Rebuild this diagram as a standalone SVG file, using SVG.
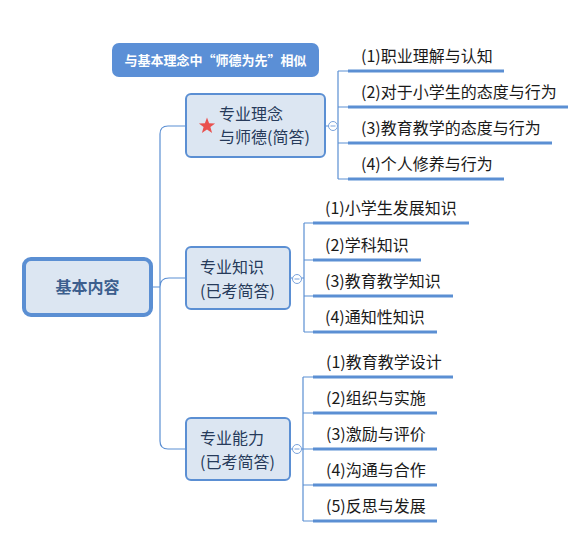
<svg xmlns="http://www.w3.org/2000/svg" width="579" height="543" viewBox="0 0 579 543">
<style>
.t{font-family:"Microsoft YaHei","Noto Sans CJK SC","Liberation Sans",sans-serif;font-size:16px;fill:#1a1a1a}
.nt{font-family:"Microsoft YaHei","Noto Sans CJK SC","Liberation Sans",sans-serif;font-size:16px;fill:#263a5a}
.node{fill:#dce6f2;stroke:#5b8fd3;stroke-width:2}
.con{fill:none;stroke:#5b8fd3;stroke-width:1.2}
.ul{stroke:#5b8fd3;stroke-width:3}
.col{fill:#fff;stroke:#7aa3dc;stroke-width:1}
</style>
<rect width="579" height="543" fill="#fff"/>
<g id="connectors">
<path class="con" d="M152,287 H160 M160,287 V134 Q160,126 168,126 H186 M160,287 V441 Q160,449 168,449 H186 M160,287 Q160,278 169,278 H186"/>
<path class="con" d="M325,126 H338 M338,71 V179 M338,71 H348 M338,107 H348 M338,143 H348 M338,179 H348"/>
<path class="con" d="M290,278 H304 M304,223 V332 M304,223 H313 M304,260 H313 M304,296 H313 M304,332 H313"/>
<path class="con" d="M290,449 H303 M303,377 V521 M303,377 H313 M303,413 H313 M303,449 H313 M303,485 H313 M303,521 H313"/>
<circle class="col" cx="333" cy="126" r="4.5"/><path d="M330.5,126 H335.5" stroke="#7aa3dc" stroke-width="1"/>
<circle class="col" cx="297" cy="279" r="4.5"/><path d="M294.5,279 H299.5" stroke="#7aa3dc" stroke-width="1"/>
<circle class="col" cx="297" cy="449" r="4.5"/><path d="M294.5,449 H299.5" stroke="#7aa3dc" stroke-width="1"/>
</g>
<g id="root">
<rect x="24" y="259" width="127" height="56" rx="7" fill="#dce6f2" stroke="#5b8fd3" stroke-width="4"/>
<text x="87.5" y="293" text-anchor="middle" font-family="Microsoft YaHei,Noto Sans CJK SC,Liberation Sans,sans-serif" font-size="16" font-weight="bold" fill="#3d5f8e">基本内容</text>
</g>
<g id="label">
<rect x="112" y="43" width="207" height="34" rx="7" fill="#5b8fd6"/>
<text x="215.5" y="64.5" text-anchor="middle" font-family="Microsoft YaHei,Noto Sans CJK SC,Liberation Sans,sans-serif" font-size="13" font-weight="bold" fill="#fff">与基本理念中“师德为先”相似</text>
</g>
<g id="n1">
<rect class="node" x="186" y="94" width="139" height="63" rx="5"/>
<polygon points="207,117.5 209.1,123.3 215.1,123.4 210.4,127.1 212.1,133 207,129.5 201.9,133 203.6,127.1 198.9,123.4 204.9,123.3" fill="#e9514f"/>
<text class="nt" x="219" y="120">专业理念</text>
<text class="nt" x="219" y="143">与师德(简答)</text>
</g>
<g id="n1c">
<line class="ul" x1="348" y1="71" x2="504" y2="71"/><text class="t" x="361" y="62">(1)职业理解与认知</text>
<line class="ul" x1="348" y1="107" x2="568" y2="107"/><text class="t" x="361" y="98">(2)对于小学生的态度与行为</text>
<line class="ul" x1="348" y1="143" x2="552" y2="143"/><text class="t" x="361" y="134">(3)教育教学的态度与行为</text>
<line class="ul" x1="348" y1="179" x2="504" y2="179"/><text class="t" x="361" y="170">(4)个人修养与行为</text>
</g>
<g id="n2">
<rect class="node" x="186" y="247" width="104" height="62" rx="5"/>
<text class="nt" x="200" y="273">专业知识</text>
<text class="nt" x="200" y="297">(已考简答)</text>
</g>
<g id="n2c">
<line class="ul" x1="313" y1="223" x2="469" y2="223"/><text class="t" x="325" y="214">(1)小学生发展知识</text>
<line class="ul" x1="313" y1="260" x2="421" y2="260"/><text class="t" x="325" y="251">(2)学科知识</text>
<line class="ul" x1="313" y1="296" x2="453" y2="296"/><text class="t" x="325" y="287">(3)教育教学知识</text>
<line class="ul" x1="313" y1="332" x2="437" y2="332"/><text class="t" x="325" y="323">(4)通知性知识</text>
</g>
<g id="n3">
<rect class="node" x="186" y="418" width="104" height="62" rx="5"/>
<text class="nt" x="200" y="444">专业能力</text>
<text class="nt" x="200" y="468">(已考简答)</text>
</g>
<g id="n3c">
<line class="ul" x1="313" y1="377" x2="453" y2="377"/><text class="t" x="326" y="368">(1)教育教学设计</text>
<line class="ul" x1="313" y1="413" x2="437" y2="413"/><text class="t" x="326" y="404">(2)组织与实施</text>
<line class="ul" x1="313" y1="449" x2="437" y2="449"/><text class="t" x="326" y="440">(3)激励与评价</text>
<line class="ul" x1="313" y1="485" x2="437" y2="485"/><text class="t" x="326" y="476">(4)沟通与合作</text>
<line class="ul" x1="313" y1="521" x2="437" y2="521"/><text class="t" x="326" y="512">(5)反思与发展</text>
</g>
</svg>
